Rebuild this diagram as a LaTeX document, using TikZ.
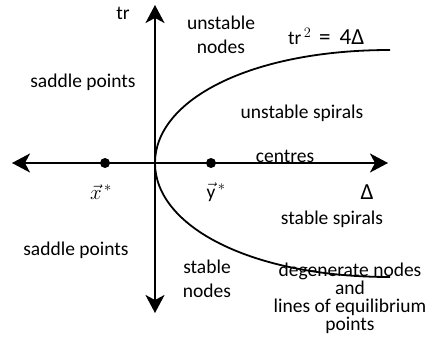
\documentclass[tikz,border=0pt]{standalone}
\usepackage{fontspec}
\setmainfont{Carlito}
\usetikzlibrary{arrows.meta}
\begin{document}
\begin{tikzpicture}[x=1pt,y=-1pt,
  axis/.style={line width=2pt,{Stealth[length=18pt,width=19pt,inset=5pt]}-{Stealth[length=18pt,width=19pt,inset=5pt]}},
  curve/.style={line width=1.8pt},
  lbl/.style={font=\fontsize{19.5}{23}\selectfont,inner sep=0pt,align=center},
  dot/.style={circle,fill=black,inner sep=0pt,minimum size=10pt}]
\useasboundingbox (0,0) rectangle (429,337);
\coordinate (O) at (155,163);
\coordinate (L) at (12,163);
\coordinate (R) at (388,163);
\coordinate (T) at (155,5);
\coordinate (B) at (155,313);
\coordinate (U) at (390,50);
\coordinate (D) at (390,277);
\draw[axis] (L) -- (R);
\draw[axis] (B) -- (T);
\draw[curve] (O) .. controls (155,100) and (250,50) .. (U);
\draw[curve] (O) .. controls (155,226) and (250,277) .. (D);
\node[dot] (x) at (105,163) {};
\node[dot] (y) at (211,163) {};
\node[lbl] (xl) at (101,192) {$\vec{x}^{\,*}$};
\node[lbl] (yl) at (216,192) {$\vec{\mathrm{y}}^{\,*}$};
\node[lbl] (tr) at (123,13) {tr};
\node[lbl] (un) at (221,35) {unstable\\[1pt]nodes};
\node[lbl,anchor=base west] (eq) at (288,45) {tr$^{\,2}$\, {\fontsize{23}{23}\selectfont = \,4Δ}};
\node[lbl] (sp1) at (83,82) {saddle points};
\node[lbl] (us) at (302,113) {unstable spirals};
\node[lbl] (ce) at (285,156) {centres};
\node[lbl,font=\fontsize{23}{23}\selectfont] (de) at (367,192) {Δ};
\node[lbl] (ss) at (332,219) {stable spirals};
\node[lbl] (sp2) at (76,250) {saddle points};
\node[lbl] (sn) at (207,279) {stable\\[1pt]nodes};
\node[lbl,font=\fontsize{19.5}{18}\selectfont] (dg) at (350,298) {degenerate nodes\\and\\lines of equilibrium\\points};
\end{tikzpicture}
\end{document}
